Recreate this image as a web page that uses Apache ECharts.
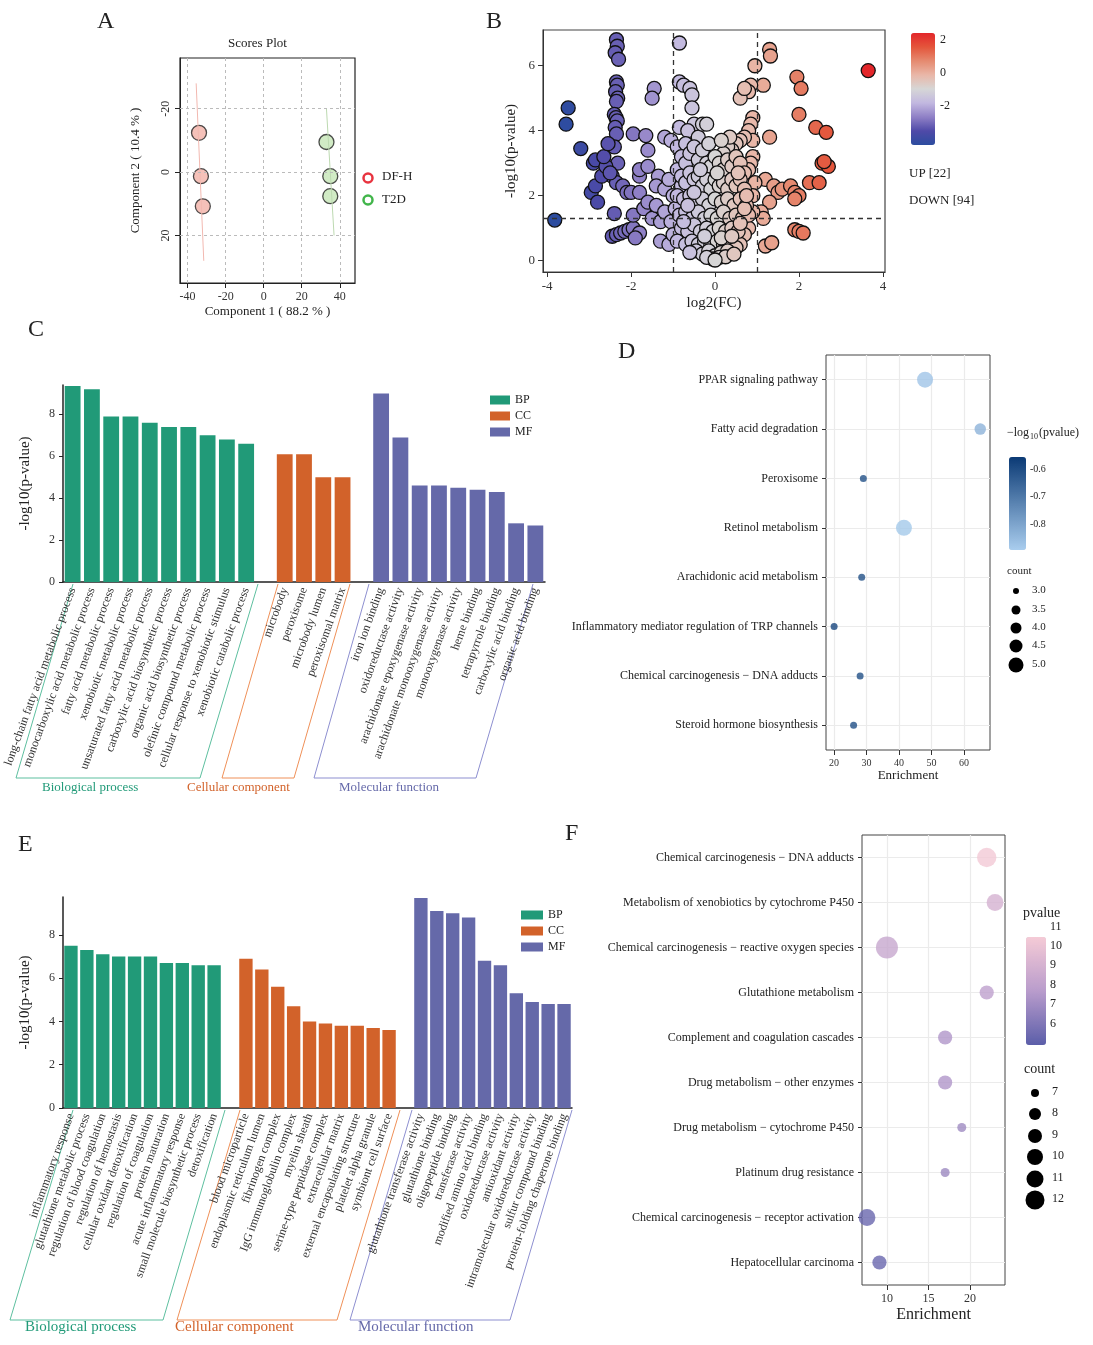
<!DOCTYPE html>
<html><head><meta charset="utf-8">
<script src="https://cdn.jsdelivr.net/npm/echarts@6/dist/echarts.min.js"></script>
<style>body{margin:0;background:#fff}#main{width:1093px;height:1345px}</style>
</head><body><div id="main"></div>
<script>
var F = 'Liberation Serif';

// ---- A: PLS-DA scores
var scoreDFH = [[-34, -12.4], [-33, 1.3], [-32, 10.8]];
var scoreT2D = [[33, -9.5], [35, 1.3], [35, 7.6]];

// ---- B: volcano [log2FC, -log10 p]
var volcano = [
  [-2.35,6.8],[-2.33,6.6],[-2.38,6.4],[-2.3,6.2],[-2.35,5.5],[-2.33,5.4],[-2.37,5.2],[-2.32,5.0],[-2.35,4.9],
  [-2.4,4.5],[-2.36,4.4],[-2.33,4.3],[-2.38,4.1],[-2.35,3.9],[-2.4,3.5],[-2.32,3.0],[-2.45,2.6],[-2.35,2.4],[-2.4,1.45],
  [-3.5,4.7],[-3.55,4.2],[-3.2,3.45],[-3.82,1.25],[-2.9,3.0],[-2.85,3.1],[-2.95,2.1],[-2.85,2.3],[-2.8,1.8],
  [-2.7,2.6],[-2.6,2.9],[-2.65,3.2],[-2.5,2.7],[-2.55,3.6],[-2.2,2.3],[-2.1,2.1],[-2.0,2.1],[-1.8,2.1],[-1.8,2.6],
  [-1.8,2.8],[-1.95,3.9],[-1.65,3.85],[-1.6,3.4],[-1.45,5.3],[-1.5,5.0],[-1.6,2.9],[-1.35,2.6],[-1.2,3.8],
  [-1.05,3.7],[-0.85,4.1],[-0.85,6.7],[-0.85,5.5],[-0.75,5.4],[-0.6,5.3],[-0.55,5.1],[-0.55,4.7],[-0.5,4.2],
  [-0.65,4.0],[-0.4,3.8],[-0.3,4.2],[-0.2,4.2],[-0.9,3.5],[-0.7,3.6],
  [-2.45,0.75],[-2.35,0.8],[-2.25,0.85],[-2.15,0.9],[-2.05,0.95],[-1.95,1.0],[-1.8,0.85],[-1.9,0.7],
  [-1.95,1.4],[-1.7,1.6],[-1.6,1.8],[-1.5,1.3],[-1.4,1.7],[-1.3,1.2],[-1.2,1.5],[-1.3,0.6],[-1.1,0.5],
  [-1.4,2.3],[-1.2,2.2],[-1.1,2.5],[-1.0,2.0],[-1.05,1.2],[-1.0,0.8],[-0.95,1.6],[-0.9,2.8],[-0.8,2.3],
  [3.65,5.85],[1.3,6.5],[1.32,6.3],[0.95,6.0],[1.15,5.4],[0.85,5.4],[0.8,5.2],[0.6,5.0],[0.7,5.3],
  [1.95,5.65],[2.05,5.3],[2.0,4.5],[2.4,4.1],[2.65,3.95],[1.3,3.8],[2.55,3.0],[2.7,2.9],[2.6,3.05],
  [2.25,2.4],[2.48,2.4],[1.2,2.5],[1.4,2.3],[1.5,2.1],[1.6,2.2],[1.8,2.3],[1.9,2.1],[2.0,2.0],[1.9,1.9],
  [1.3,1.8],[1.1,1.5],[1.15,1.3],[1.9,0.95],[2.0,0.9],[2.1,0.85],[1.2,0.45],[1.35,0.55],
  [0.9,4.4],[0.85,4.2],[0.8,4.0],[0.9,3.7],[0.7,3.8],[0.6,3.7],[0.5,3.6],[0.4,3.4],[0.3,3.5],[0.2,3.3],
  [0.9,3.2],[0.85,3.0],[0.8,2.8],[0.95,2.4],[0.9,2.0],[0.9,1.5],[0.8,1.0],[0.7,0.8],[0.6,0.5],
  [-0.8,3.2],[-0.7,3.0],[-0.6,3.3],[-0.5,3.5],[-0.4,3.1],[-0.3,3.4],[-0.2,3.0],[-0.1,2.9],[0,3.2],[0.1,3.0],
  [0.2,2.8],[0.3,3.1],[0.4,2.9],[0.5,3.2],[0.6,3.0],[0.7,2.7],[-0.8,2.6],[-0.7,2.4],[-0.6,2.7],[-0.5,2.5],
  [-0.4,2.6],[-0.3,2.3],[-0.2,2.5],[-0.1,2.2],[0,2.5],[0.1,2.3],[0.2,2.4],[0.3,2.2],[0.4,2.5],[0.5,2.3],
  [0.6,2.5],[0.7,2.2],[-0.9,2.0],[-0.75,1.9],[-0.6,2.0],[-0.45,1.8],[-0.3,1.9],[-0.15,1.7],[0,1.9],[0.15,1.8],
  [0.3,1.9],[0.45,1.7],[0.6,1.9],[0.75,1.7],[-0.85,1.4],[-0.7,1.5],[-0.55,1.3],[-0.4,1.5],[-0.25,1.3],
  [-0.1,1.4],[0.05,1.3],[0.2,1.5],[0.35,1.3],[0.5,1.4],[0.65,1.3],[0.8,1.4],[-0.8,1.0],[-0.65,0.9],[-0.5,1.1],
  [-0.35,0.9],[-0.2,1.0],[-0.05,0.9],[0.1,1.0],[0.25,0.9],[0.4,1.0],[0.55,0.9],[-0.9,0.6],[-0.7,0.5],
  [-0.55,0.6],[-0.4,0.5],[-0.25,0.6],[-0.1,0.5],[0.05,0.6],[0.2,0.5],[0.35,0.6],[0.5,0.4],[-0.45,0.3],
  [-0.3,0.2],[-0.15,0.3],[0,0.15],[0.15,0.25],[0.3,0.3],[-0.05,0.05],[0.1,0.1],[-0.2,0.1],[0.25,0.12],
  [-0.6,0.25],[0.45,0.2],[0,0.02],[-0.5,2.1],[0.05,2.7],[-0.15,3.6],[0.35,3.8],[0.15,3.7],[-0.35,2.8],
  [0.55,2.7],[-0.65,1.7],[0.7,1.6],[-0.25,0.75],[0.15,0.7],[0.4,0.75],[-0.75,1.2],[0.6,1.15],[0.75,2.0]
];

// ---- C: GO bars (DF-H)
var catC = ['long-chain fatty acid metabolic process','monocarboxylic acid metabolic process','fatty acid metabolic process',
  'xenobiotic metabolic process','unsaturated fatty acid metabolic process','carboxylic acid biosynthetic process',
  'organic acid biosynthetic process','olefinic compound metabolic process','cellular response to xenobiotic stimulus',
  'xenobiotic catabolic process','',
  'microbody','peroxisome','microbody lumen','peroxisomal matrix','',
  'iron ion binding','oxidoreductase activity','arachidonate epoxygenase activity','arachidonate monooxygenase activity',
  'monooxygenase activity','heme binding','tetrapyrrole binding','carboxylic acid binding','organic acid binding'];
var bpC = [9.35, 9.2, 7.9, 7.9, 7.6, 7.4, 7.4, 7.0, 6.8, 6.6];
var ccC = [6.1, 6.1, 5.0, 5.0];
var mfC = [9.0, 6.9, 4.6, 4.6, 4.5, 4.4, 4.3, 2.8, 2.7];

// ---- D: KEGG dots
var keggD = ['PPAR signaling pathway','Fatty acid degradation','Peroxisome','Retinol metabolism',
  'Arachidonic acid metabolism','Inflammatory mediator regulation of TRP channels',
  'Chemical carcinogenesis \u2212 DNA adducts','Steroid hormone biosynthesis'];
var enrichD = [48, 65, 29, 41.5, 28.5, 20, 28, 26];
var pvalD = [-0.84, -0.8, -0.57, -0.85, -0.57, -0.55, -0.57, -0.57];
var countD = [5, 4, 3, 5, 3, 3, 3, 3];

// ---- E: GO bars
var catE = ['inflammatory response','glutathione metabolic process','regulation of blood coagulation',
  'regulation of hemostasis','cellular oxidant detoxification','regulation of coagulation','protein maturation',
  'acute inflammatory response','small molecule biosynthetic process','detoxification','',
  'blood microparticle','endoplasmic reticulum lumen','fibrinogen complex','IgG immunoglobulin complex','myelin sheath',
  'serine-type peptidase complex','extracellular matrix','external encapsulating structure','platelet alpha granule',
  'symbiont cell surface','',
  'glutathione transferase activity','glutathione binding','oligopeptide binding','transferase activity',
  'modified amino acid binding','oxidoreductase activity','antioxidant activity','intramolecular oxidoreductase activity',
  'sulfur compound binding','protein-folding chaperone binding'];
var bpE = [7.5, 7.3, 7.1, 7.0, 7.0, 7.0, 6.7, 6.7, 6.6, 6.6];
var ccE = [6.9, 6.4, 5.6, 4.7, 4.0, 3.9, 3.8, 3.8, 3.7, 3.6];
var mfE = [9.7, 9.1, 9.0, 8.8, 6.8, 6.6, 5.3, 4.9, 4.8, 4.8];

// ---- F: KEGG dots
var keggF = ['Chemical carcinogenesis \u2212 DNA adducts','Metabolism of xenobiotics by cytochrome P450',
  'Chemical carcinogenesis \u2212 reactive oxygen species','Glutathione metabolism','Complement and coagulation cascades',
  'Drug metabolism \u2212 other enzymes','Drug metabolism \u2212 cytochrome P450','Platinum drug resistance',
  'Chemical carcinogenesis \u2212 receptor activation','Hepatocellular carcinoma'];
var enrichF = [22, 23, 10, 22, 17, 17, 19, 17, 7.6, 9.1];
var pvalF = [11, 9.6, 9.0, 8.6, 8.1, 8.1, 7.6, 7.5, 6.0, 6.0];
var countF = [11, 10, 12, 9, 9, 9, 7, 7, 10, 9];

var C_BP = '#219a78', C_CC = '#d2622a', C_MF = '#6569a9';

function pad(arr, before, total) {
  var out = [];
  for (var i = 0; i < total; i++) out.push(i >= before && i < before + arr.length ? arr[i - before] : '-');
  return out;
}
function dots(en, pv, ct) {
  return en.map(function (e, i) { return [e, i, pv[i], ct[i]]; });
}
function idx(n) { var a = []; for (var i = 0; i < n; i++) a.push(i); return a; }

var lbl = {fontFamily: F, color: '#333', fontSize: 12};

function barX(i, cats) {
  return {gridIndex: i, type: 'category', data: cats,
    axisLine: {lineStyle: {color: '#222', width: 1.5}}, axisTick: {show: false},
    axisLabel: Object.assign({interval: 0, rotate: 70, fontSize: 12.5, margin: 6}, lbl)};
}
function barY(i, max) {
  return {gridIndex: i, type: 'value', min: 0, max: max, splitLine: {show: false},
    axisLine: {show: true, lineStyle: {color: '#222', width: 1.5}},
    axisTick: {show: true, length: 4, lineStyle: {color: '#222'}, customValues: [0, 2, 4, 6, 8]},
    axisLabel: Object.assign({customValues: [0, 2, 4, 6, 8]}, lbl),
    name: '-log10(p-value)', nameLocation: 'middle', nameGap: 30, nameTextStyle: {fontFamily: F, fontSize: 15, color: '#222'}};
}
function catY(i, cats) {
  return {gridIndex: i, type: 'value', inverse: true, min: -0.5, max: cats.length - 0.5,
    splitLine: {show: true, lineStyle: {color: '#ebebeb', width: 1.2}, customValues: idx(cats.length)},
    axisLine: {show: false, onZero: false},
    axisTick: {show: true, length: 4, lineStyle: {color: '#333'}, customValues: idx(cats.length)},
    axisLabel: Object.assign({customValues: idx(cats.length), formatter: function (v) { return cats[Math.round(v)]; }}, lbl, {color: '#222'})};
}

var chart = echarts.init(document.getElementById('main'));
var gridLine = {show: true, lineStyle: {color: '#ebebeb', width: 1.2}};

var option = {
  animation: false,
  textStyle: {fontFamily: F},
  grid: [
    {left: 180, top: 58, width: 175, height: 225},
    {left: 543, top: 30, width: 342, height: 242},
    {left: 63, top: 385, width: 482, height: 197},
    {left: 826, top: 355, width: 164, height: 395},
    {left: 63, top: 897, width: 509, height: 211},
    {left: 862, top: 835, width: 143, height: 450}
  ],
  xAxis: [
    {gridIndex: 0, type: 'value', min: -44, max: 48,
      axisLine: {onZero: false, lineStyle: {color: '#222'}},
      axisLabel: Object.assign({customValues: [-40, -20, 0, 20, 40]}, lbl),
      axisTick: {customValues: [-40, -20, 0, 20, 40]}, splitLine: {show: false},
      name: 'Component 1 ( 88.2 % )', nameLocation: 'middle', nameGap: 22, nameTextStyle: {fontFamily: F, fontSize: 13, color: '#222'}},
    {gridIndex: 1, type: 'value', min: -4.1, max: 4.05, splitLine: {show: false},
      axisLine: {onZero: false, lineStyle: {color: '#333'}}, axisTick: {customValues: [-4, -2, 0, 2, 4], lineStyle: {color: '#333'}},
      axisLabel: Object.assign({customValues: [-4, -2, 0, 2, 4]}, lbl, {fontSize: 13}),
      name: 'log2(FC)', nameLocation: 'middle', nameGap: 24, nameTextStyle: {fontFamily: F, fontSize: 15, color: '#222'}},
    barX(2, catC),
    {gridIndex: 3, type: 'value', min: 17.5, max: 68, splitLine: gridLine,
      axisLine: {show: false, onZero: false}, axisTick: {customValues: [20, 30, 40, 50, 60], lineStyle: {color: '#333'}},
      axisLabel: Object.assign({customValues: [20, 30, 40, 50, 60]}, lbl, {fontSize: 10}),
      name: 'Enrichment', nameLocation: 'middle', nameGap: 16, nameTextStyle: {fontFamily: F, fontSize: 13, color: '#222'}},
    barX(4, catE),
    {gridIndex: 5, type: 'value', min: 7, max: 24.2, splitLine: gridLine,
      axisLine: {show: false, onZero: false}, axisTick: {customValues: [10, 15, 20], lineStyle: {color: '#333'}},
      axisLabel: Object.assign({customValues: [10, 15, 20]}, lbl),
      name: 'Enrichment', nameLocation: 'middle', nameGap: 22, nameTextStyle: {fontFamily: F, fontSize: 16, color: '#222'}}
  ],
  yAxis: [
    {gridIndex: 0, type: 'value', inverse: true, min: -36, max: 35,
      axisLine: {onZero: false, lineStyle: {color: '#222'}},
      axisTick: {customValues: [-20, 0, 20]}, splitLine: {show: false},
      axisLabel: Object.assign({customValues: [-20, 0, 20], rotate: 90}, lbl),
      name: 'Component 2 ( 10.4 % )', nameLocation: 'middle', nameGap: 38, nameTextStyle: {fontFamily: F, fontSize: 13, color: '#222'}},
    {gridIndex: 1, type: 'value', min: -0.35, max: 7.1, splitLine: {show: false},
      axisLine: {show: true, onZero: false, lineStyle: {color: '#333'}}, axisTick: {show: true, customValues: [0, 2, 4, 6]},
      axisLabel: Object.assign({customValues: [0, 2, 4, 6]}, lbl, {fontSize: 13}),
      name: '-log10(p-value)', nameLocation: 'middle', nameGap: 24, nameTextStyle: {fontFamily: F, fontSize: 15, color: '#222'}},
    barY(2, 9.4),
    catY(3, keggD),
    barY(4, 9.75),
    catY(5, keggF)
  ],
  legend: [
    {data: ['BP', 'CC', 'MF'], left: 485, top: 389, orient: 'vertical', itemGap: 4, itemWidth: 20, itemHeight: 9,
      textStyle: {fontFamily: F, fontSize: 12, color: '#222'}, icon: 'rect'},
    {data: ['BP', 'CC', 'MF'], left: 516, top: 904, orient: 'vertical', itemGap: 4, itemWidth: 22, itemHeight: 9,
      textStyle: {fontFamily: F, fontSize: 12, color: '#222'}, icon: 'rect'}
  ],
  visualMap: [
    {type: 'continuous', seriesIndex: 3, dimension: 0, min: -3.6, max: 3.6, left: 896, top: 18, itemWidth: 24, itemHeight: 112,
      calculable: false, showLabel: false, text: ['', ''],
      inRange: {color: ['#2c4c9f', '#4f4aa8', '#8f80c6', '#c2b8e0', '#d6d6d6', '#e9b7a8', '#e58a70', '#e4553b', '#e3262a']}},
    {type: 'continuous', seriesIndex: 11, dimension: 2, min: -0.86, max: -0.52, left: 994, top: 442, itemWidth: 17, itemHeight: 93,
      calculable: false, showLabel: false, text: ['', ''],
      inRange: {color: ['#a9cdee', '#0b3a75']}},
    {type: 'continuous', seriesIndex: 12, dimension: 2, min: 5.6, max: 11.1, left: 1011, top: 922, itemWidth: 20, itemHeight: 108,
      calculable: false, showLabel: false, text: ['', ''],
      inRange: {color: ['#5b5ea9', '#b99ccc', '#f5cbd6']}}
  ],
  series: [
    {type: 'line', xAxisIndex: 0, yAxisIndex: 0, data: [[-35.5, -28], [-31.5, 28]], symbol: 'none', lineStyle: {color: '#f2b8b0', width: 1}, silent: true},
    {type: 'line', xAxisIndex: 0, yAxisIndex: 0, data: [[33, -20], [37, 20]], symbol: 'none', lineStyle: {color: '#bcd9b0', width: 1}, silent: true},
    {type: 'scatter', xAxisIndex: 0, yAxisIndex: 0, data: scoreDFH.concat(scoreT2D), symbolSize: 15,
      itemStyle: {color: function (p) { return p.dataIndex < 3 ? '#f2b1a8' : '#c6e6b6'; }, borderColor: '#222', borderWidth: 1.3},
      markLine: {silent: true, symbol: 'none', label: {show: false}, lineStyle: {color: '#bbb', type: [3, 3], width: 1},
        data: [{xAxis: -40}, {xAxis: -20}, {xAxis: 0}, {xAxis: 20}, {xAxis: 40}, {yAxis: -20}, {yAxis: 0}, {yAxis: 20}]}},
    {type: 'scatter', xAxisIndex: 1, yAxisIndex: 1, data: volcano, symbolSize: 14,
      itemStyle: {borderColor: '#111', borderWidth: 1.3, opacity: 1},
      markLine: {silent: true, symbol: 'none', label: {show: false}, lineStyle: {color: '#333', type: [5, 4], width: 1.3},
        data: [{xAxis: -1}, {xAxis: 1}, {yAxis: 1.3}]}},
    {name: 'BP', type: 'bar', xAxisIndex: 2, yAxisIndex: 2, stack: 'c', barCategoryGap: '18%', data: pad(bpC, 0, 25), itemStyle: {color: C_BP}},
    {name: 'CC', type: 'bar', xAxisIndex: 2, yAxisIndex: 2, stack: 'c', data: pad(ccC, 11, 25), itemStyle: {color: C_CC}},
    {name: 'MF', type: 'bar', xAxisIndex: 2, yAxisIndex: 2, stack: 'c', data: pad(mfC, 16, 25), itemStyle: {color: C_MF}},
    {name: 'BP', type: 'bar', xAxisIndex: 4, yAxisIndex: 4, stack: 'e', barCategoryGap: '16%', data: pad(bpE, 0, 32), itemStyle: {color: C_BP}},
    {name: 'CC', type: 'bar', xAxisIndex: 4, yAxisIndex: 4, stack: 'e', data: pad(ccE, 11, 32), itemStyle: {color: C_CC}},
    {name: 'MF', type: 'bar', xAxisIndex: 4, yAxisIndex: 4, stack: 'e', data: pad(mfE, 22, 32), itemStyle: {color: C_MF}},
    {type: 'line', data: []},
    {type: 'scatter', xAxisIndex: 3, yAxisIndex: 3, data: dots(enrichD, pvalD, countD),
      symbolSize: function (v) { return 7 + (v[3] - 3) * 4.5; }},
    {type: 'scatter', xAxisIndex: 5, yAxisIndex: 5, data: dots(enrichF, pvalF, countF),
      symbolSize: function (v) { return 9 + (v[3] - 7) * 2.6; }}
  ],
  graphic: []
};

var g = option.graphic;
function T(x, y, s, size, extra) {
  g.push({type: 'text', x: x, y: y, style: Object.assign({text: s, font: size + 'px "' + F + '"', fill: '#222'}, extra || {})});
}
function poly(pts, color) {
  g.push({type: 'polyline', shape: {points: pts}, style: {stroke: color, lineWidth: 1, fill: null}});
}
// panel letters
T(97, 10, 'A', 24); T(486, 10, 'B', 24); T(28, 318, 'C', 24); T(618, 340, 'D', 24); T(18, 833, 'E', 24); T(565, 822, 'F', 24);
// A extras
T(228, 37, 'Scores Plot', 13);
g.push({type: 'circle', shape: {cx: 368, cy: 178, r: 4.5}, style: {fill: '#fff', stroke: '#e8333f', lineWidth: 2.5}});
g.push({type: 'circle', shape: {cx: 368, cy: 200, r: 4.5}, style: {fill: '#fff', stroke: '#41b54a', lineWidth: 2.5}});
T(382, 170, 'DF-H', 13); T(382, 193, 'T2D', 13);
g.push({type: 'rect', shape: {x: 180, y: 58, width: 175, height: 225}, style: {fill: null, stroke: '#222', lineWidth: 1.2}});
// B extras
g.push({type: 'rect', shape: {x: 543, y: 30, width: 342, height: 242}, style: {fill: null, stroke: '#444', lineWidth: 1.2}});
T(940, 34, '2', 12); T(940, 67, '0', 12); T(940, 100, '-2', 12);
[42, 74, 107].forEach(function (y) { g.push({type: 'line', shape: {x1: 911, y1: y, x2: 916, y2: y}, style: {stroke: '#fff', lineWidth: 1.5}}); });
T(909, 167, 'UP [22]', 13); T(909, 194, 'DOWN [94]', 13);
// C brackets
poly([[73, 584], [16, 778], [200, 778], [258, 584]], '#5dbf9f');
poly([[278, 584], [222, 778], [294, 778], [350, 584]], '#ef9058');
poly([[369, 584], [314, 778], [476, 778], [533, 584]], '#8d8fd0');
T(42, 781, 'Biological process', 13, {fill: C_BP});
T(187, 781, 'Cellular component', 13, {fill: C_CC});
T(339, 781, 'Molecular function', 13, {fill: C_MF});
// D extras
g.push({type: 'rect', shape: {x: 826, y: 355, width: 164, height: 395}, style: {fill: null, stroke: '#444', lineWidth: 1}});
T(1007, 427, '\u2212log', 12); T(1030, 433, '10', 8); T(1039, 427, '(pvalue)', 12);
T(1030, 464, '-0.6', 10); T(1030, 491, '-0.7', 10); T(1030, 519, '-0.8', 10);
T(1007, 566, 'count', 11);
[[591, 3, '3.0'], [610, 4.5, '3.5'], [628, 5.5, '4.0'], [646, 6.5, '4.5'], [665, 7.5, '5.0']].forEach(function (c) {
  g.push({type: 'circle', shape: {cx: 1016, cy: c[0], r: c[1]}, style: {fill: '#000'}});
  T(1032, c[0] - 6, c[2], 11);
});
// E brackets
poly([[73, 1110], [10, 1320], [163, 1320], [225, 1110]], '#5dbf9f');
poly([[240, 1110], [177, 1320], [337, 1320], [400, 1110]], '#ef9058');
poly([[412, 1110], [350, 1320], [510, 1320], [572, 1110]], '#8d8fd0');
T(25, 1320, 'Biological process', 15, {fill: C_BP});
T(175, 1320, 'Cellular component', 15, {fill: C_CC});
T(358, 1320, 'Molecular function', 15, {fill: C_MF});
// F extras
g.push({type: 'rect', shape: {x: 862, y: 835, width: 143, height: 450}, style: {fill: null, stroke: '#444', lineWidth: 1}});
T(1023, 906, 'pvalue', 14);
[[11, 928], [10, 947], [9, 966], [8, 986], [7, 1005], [6, 1025]].forEach(function (c) { T(1050, c[1] - 7, String(c[0]), 12); });
T(1024, 1062, 'count', 14);
[[1093, 4, '7'], [1114, 6, '8'], [1136, 7, '9'], [1157, 8, '10'], [1179, 8.5, '11'], [1200, 9.5, '12']].forEach(function (c) {
  g.push({type: 'circle', shape: {cx: 1035, cy: c[0], r: c[1]}, style: {fill: '#000'}});
  T(1052, c[0] - 7, c[2], 12);
});

chart.setOption(option);
</script></body></html>
